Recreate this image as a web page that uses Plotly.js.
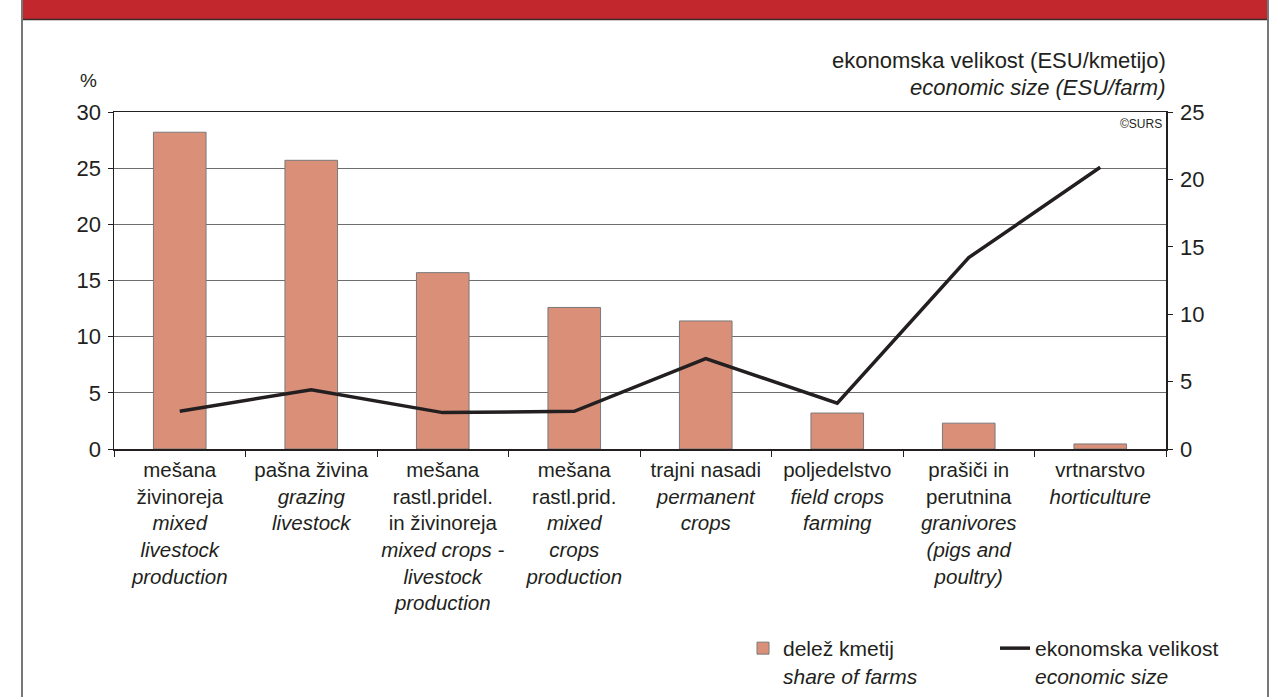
<!DOCTYPE html>
<html><head><meta charset="utf-8">
<script src="https://cdn.plot.ly/plotly-3.0.1.min.js"></script>
<style>html,body{margin:0;padding:0;background:#fff;}#chart{width:1271px;height:697px;}</style>
</head><body><div id="chart"></div>
<script>
const categories = ["mixed_livestock","grazing","mixed_crops_livestock","mixed_crops","permanent","field_crops","granivores","horticulture"];
const tickLabels = [
  "mešana<br>živinoreja<br><i>mixed</i><br><i>livestock</i><br><i>production</i>",
  "pašna živina<br><i>grazing</i><br><i>livestock</i>",
  "mešana<br>rastl.pridel.<br>in živinoreja<br><i>mixed crops -</i><br><i>livestock</i><br><i>production</i>",
  "mešana<br>rastl.prid.<br><i>mixed</i><br><i>crops</i><br><i>production</i>",
  "trajni nasadi<br><i>permanent</i><br><i>crops</i>",
  "poljedelstvo<br><i>field crops</i><br><i>farming</i>",
  "prašiči in<br>perutnina<br><i>granivores</i><br><i>(pigs and</i><br><i>poultry)</i>",
  "vrtnarstvo<br><i>horticulture</i>"
];
const shareOfFarms = [28.2, 25.7, 15.7, 12.6, 11.4, 3.2, 2.3, 0.45];
const economicSize = [2.8, 4.4, 2.7, 2.8, 6.7, 3.4, 14.2, 20.9];

const FONT = "Liberation Sans, Arial, Helvetica, sans-serif";
const TXT = "#231f20";

const L = 114, R = 1166, T = 112, B = 449, W = 1271, H = 697;
const px = x => (x - L) / (R - L);
const py = y => (B - y) / (B - T);

const data = [
  {type:"bar", x: categories, y: shareOfFarms, name:"delež kmetij<br><i>share of farms</i>",
   width: 0.4, marker:{color:"#d98f78", line:{color:"#7a7a7a", width:1}}, yaxis:"y"},
  {type:"scatter", mode:"lines", x: categories, y: economicSize, name:"ekonomska velikost<br><i>economic size</i>",
   line:{color:"#231f20", width:3.5}, yaxis:"y2"}
];

const layout = {
  width: W, height: H,
  margin:{l:L, r:W-R, t:T, b:H-B},
  paper_bgcolor:"#fff", plot_bgcolor:"#fff",
  font:{family:FONT, color:TXT, size:20},
  showlegend:true,
  legend:{orientation:"h", xref:"container", yref:"container", x:743/W, y:(H-628)/H, xanchor:"left", yanchor:"top",
    font:{family:FONT, size:21, color:TXT}, valign:"top", traceorder:"normal",
    entrywidth:207, itemwidth:30, bgcolor:"rgba(0,0,0,0)"},
  xaxis:{type:"category", tickvals:categories, ticktext:tickLabels, tickson:"boundaries", tickangle:0,
    automargin:false,
    ticks:"outside", ticklen:6, tickcolor:"#231f20", showline:true, linecolor:"#231f20", linewidth:1.5,
    mirror:true, tickfont:{family:FONT, size:20.5, color:TXT}, showgrid:false, range:[-0.5,7.5], fixedrange:true,
    ticklabelstandoff:2},
  yaxis:{range:[0,30], dtick:5, ticks:"outside", ticklen:5, tickcolor:"#231f20", showline:true, automargin:false,
    linecolor:"#231f20", linewidth:1.5, showgrid:true, gridcolor:"#6d6d6d", gridwidth:1, zeroline:false,
    tickfont:{family:FONT, size:22, color:TXT}, ticklabelstandoff:2},
  yaxis2:{range:[0,25], dtick:5, overlaying:"y", side:"right", ticks:"outside", ticklen:5, tickcolor:"#231f20",
    showline:true, linecolor:"#231f20", linewidth:1.5, showgrid:false, zeroline:false, automargin:false,
    tickfont:{family:FONT, size:22, color:TXT}, ticklabelstandoff:3},
  shapes:[
    {type:"rect", xref:"paper", yref:"paper", x0:px(22), x1:px(1268), y0:py(0)+0.05, y1:py(19),
     fillcolor:"#c1272d", line:{width:0}, layer:"above"},
    {type:"line", xref:"paper", yref:"paper", x0:px(22), x1:px(1268), y0:py(19.5), y1:py(19.5),
     line:{color:"#3a2a2a", width:1.5}},
    {type:"line", xref:"paper", yref:"paper", x0:px(22), x1:px(22), y0:py(0), y1:py(697)-0.05,
     line:{color:"#777", width:2}},
    {type:"line", xref:"paper", yref:"paper", x0:px(1268), x1:px(1268), y0:py(0), y1:py(697)-0.05,
     line:{color:"#777", width:2}}
  ],
  annotations:[
    {xref:"paper", yref:"paper", x:px(88), y:py(80), text:"%", showarrow:false,
     font:{family:FONT, size:19, color:TXT}, xanchor:"center", yanchor:"middle"},
    {xref:"paper", yref:"paper", x:px(1168), y:py(60), text:"ekonomska velikost (ESU/kmetijo)", showarrow:false,
     font:{family:FONT, size:22, color:TXT}, xanchor:"right", yanchor:"middle"},
    {xref:"paper", yref:"paper", x:px(1168), y:py(87), text:"<i>economic size (ESU/farm)</i>", showarrow:false,
     font:{family:FONT, size:22, color:TXT}, xanchor:"right", yanchor:"middle"},
    {xref:"paper", yref:"paper", x:px(1164), y:py(124), text:"©SURS", showarrow:false,
     font:{family:FONT, size:12, color:TXT}, xanchor:"right", yanchor:"middle"}
  ]
};

Plotly.newPlot("chart", data, layout, {displayModeBar:false, staticPlot:true});
</script>
</body></html>
